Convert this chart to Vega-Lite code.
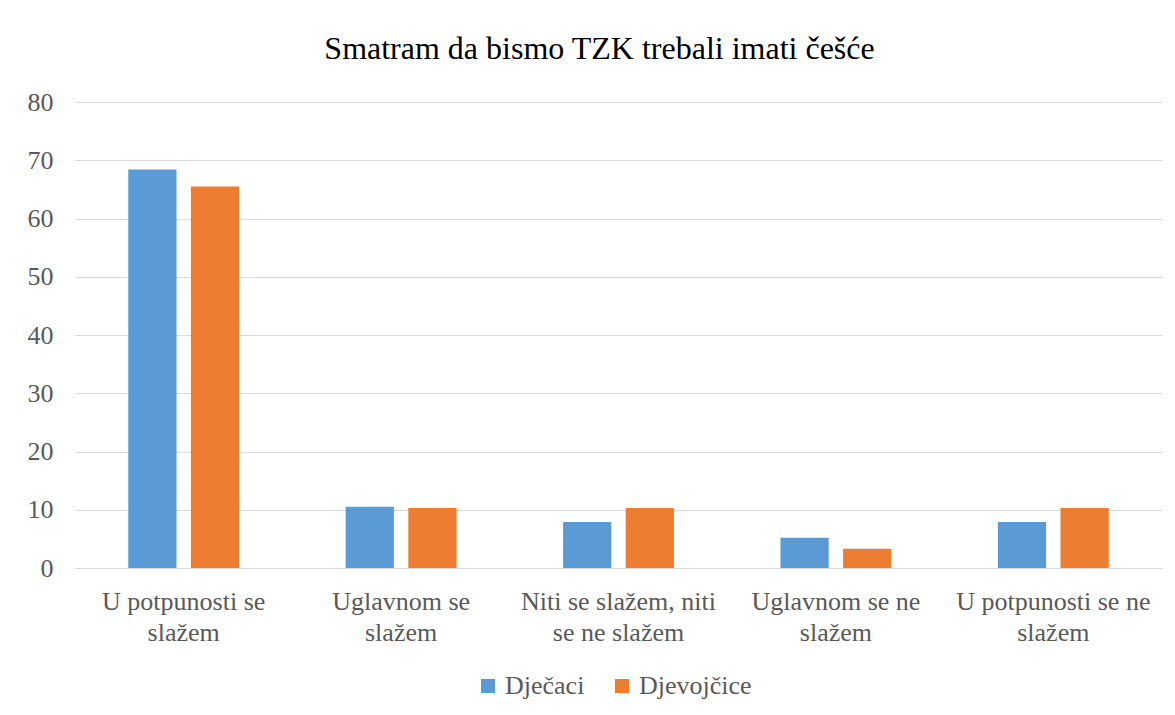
{
  "$schema": "https://vega.github.io/schema/vega-lite/v6.json",
  "autosize": "none",
  "width": 1087,
  "height": 466,
  "padding": {"left": 75, "top": 102, "right": 13, "bottom": 147},
  "background": "white",
  "title": {
    "text": "Smatram da bismo TZK trebali imati češće",
    "font": "Liberation Serif",
    "fontSize": 32,
    "fontWeight": "normal",
    "color": "#000000",
    "anchor": "middle",
    "dx": -19,
    "offset": 23
  },
  "data": {
    "values": [
      {"kategorija": "U potpunosti se slažem", "spol": "Dječaci", "postotak": 68.4},
      {"kategorija": "U potpunosti se slažem", "spol": "Djevojčice", "postotak": 65.5},
      {"kategorija": "Uglavnom se slažem", "spol": "Dječaci", "postotak": 10.5},
      {"kategorija": "Uglavnom se slažem", "spol": "Djevojčice", "postotak": 10.3},
      {"kategorija": "Niti se slažem, niti se ne slažem", "spol": "Dječaci", "postotak": 7.9},
      {"kategorija": "Niti se slažem, niti se ne slažem", "spol": "Djevojčice", "postotak": 10.3},
      {"kategorija": "Uglavnom se ne slažem", "spol": "Dječaci", "postotak": 5.2},
      {"kategorija": "Uglavnom se ne slažem", "spol": "Djevojčice", "postotak": 3.3},
      {"kategorija": "U potpunosti se ne slažem", "spol": "Dječaci", "postotak": 7.9},
      {"kategorija": "U potpunosti se ne slažem", "spol": "Djevojčice", "postotak": 10.3}
    ]
  },
  "mark": {"type": "bar"},
  "encoding": {
    "x": {
      "field": "kategorija",
      "type": "nominal",
      "sort": null,
      "scale": {"paddingInner": 0.49, "paddingOuter": 0.245},
      "axis": {
        "title": null,
        "labelAngle": 0,
        "labelFont": "Liberation Serif",
        "labelFontSize": 26,
        "labelColor": "#595959",
        "labelPadding": 20,
        "labelLineHeight": 31,
        "labelLimit": 400,
        "labelOverlap": false,
        "ticks": false,
        "domainColor": "#d9d9d9",
        "labelExpr": "datum.label == 'U potpunosti se slažem' ? ['U potpunosti se', 'slažem'] : datum.label == 'Uglavnom se slažem' ? ['Uglavnom se', 'slažem'] : datum.label == 'Niti se slažem, niti se ne slažem' ? ['Niti se slažem, niti', 'se ne slažem'] : datum.label == 'Uglavnom se ne slažem' ? ['Uglavnom se ne', 'slažem'] : ['U potpunosti se ne', 'slažem']"
      }
    },
    "xOffset": {
      "field": "spol",
      "type": "nominal",
      "sort": ["Dječaci", "Djevojčice"],
      "scale": {"paddingInner": 0.23, "paddingOuter": 0}
    },
    "y": {
      "field": "postotak",
      "type": "quantitative",
      "scale": {"domain": [0, 80]},
      "axis": {
        "title": null,
        "values": [0, 10, 20, 30, 40, 50, 60, 70, 80],
        "labelOverlap": false,
        "labelFont": "Liberation Serif",
        "labelFontSize": 26,
        "labelColor": "#595959",
        "labelPadding": 22,
        "ticks": false,
        "domain": false,
        "gridColor": "#d9d9d9",
        "gridWidth": 1
      }
    },
    "color": {
      "field": "spol",
      "type": "nominal",
      "scale": {"domain": ["Dječaci", "Djevojčice"], "range": ["#5B9BD5", "#ED7D31"]},
      "legend": {
        "title": null,
        "orient": "none",
        "direction": "horizontal",
        "legendX": 400,
        "legendY": 571,
        "symbolType": "square",
        "symbolSize": 196,
        "symbolStrokeWidth": 0,
        "labelFont": "Liberation Serif",
        "labelFontSize": 26,
        "labelColor": "#595959",
        "labelOffset": 4,
        "columnPadding": 24
      }
    }
  },
  "config": {
    "view": {"stroke": null}
  }
}
